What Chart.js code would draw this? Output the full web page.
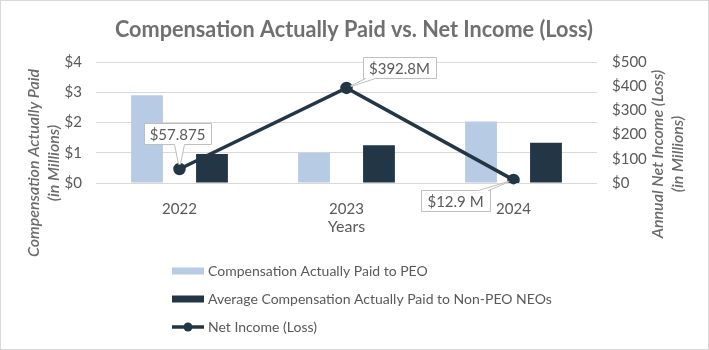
<!DOCTYPE html>
<html>
<head>
<meta charset="utf-8">
<script src="https://cdn.jsdelivr.net/npm/chart.js@4.4.1/dist/chart.umd.min.js"></script>
<style>
  body { margin: 0; background: #fff; }
  #wrap { width: 709px; height: 350px; position: relative; }
</style>
</head>
<body>
<div id="wrap"><canvas id="chart" width="709" height="350"></canvas></div>
<script>
// Chart data
const years = ["2022", "2023", "2024"];
const capPEO = [2.9, 1.0, 2.03];          // $M
const capNonPEO = [0.96, 1.25, 1.33];     // $M
const netIncome = [57.875, 392.8, 12.9];  // $M
const netIncomeLabels = ["$57.875", "$392.8M", "$12.9 M"];
const leftTicks = ["$0", "$1", "$2", "$3", "$4"];
const rightTicks = ["$0", "$100", "$200", "$300", "$400", "$500"];

const FONT = "Lato";
const textGray = "#595959";
const lightBlue = "#b7cbe5";
const navy = "#233646";

// label box offsets (box centre relative to its point)
const calloutOffsets = [[-2, -35], [53, -20], [-58, 21]];

const decorPlugin = {
  id: "decor",
  afterDraw(chart) {
    const ctx = chart.ctx;
    ctx.save();

    // outer border
    ctx.strokeStyle = "#d9d9d9";
    ctx.lineWidth = 1;
    ctx.strokeRect(0.5, 0.5, 708, 349);

    // title, squeezed to the reference width
    const title = "Compensation Actually Paid vs. Net Income (Loss)";
    ctx.font = "bold 23px " + FONT;
    ctx.fillStyle = "#707070";
    ctx.textBaseline = "alphabetic";
    ctx.textAlign = "left";
    const tw = ctx.measureText(title).width;
    ctx.save();
    ctx.translate(115, 37);
    ctx.scale(478 / tw, 1);
    ctx.fillText(title, 0, 0);
    ctx.restore();

    // axis titles
    ctx.font = "italic 600 16px " + FONT;
    ctx.fillStyle = "#6b6b6b";
    ctx.textAlign = "center";
    ctx.textBaseline = "middle";
    ctx.save();
    ctx.translate(34, 163);
    ctx.rotate(-Math.PI / 2);
    ctx.fillText("Compensation Actually Paid", 0, 0);
    ctx.fillText("(in Millions)", 0, 20);
    ctx.restore();
    ctx.save();
    ctx.translate(658, 154);
    ctx.rotate(-Math.PI / 2);
    ctx.fillText("Annual Net Income (Loss)", 0, 0);
    ctx.fillText("(in Millions)", 0, 20);
    ctx.restore();

    ctx.font = "16px " + FONT;
    ctx.fillStyle = textGray;
    ctx.fillText("Years", (chart.chartArea.left + chart.chartArea.right) / 2, 227);

    // callout labels on the net income line
    const meta = chart.getDatasetMeta(2);
    ctx.font = "15px " + FONT;
    meta.data.forEach((pt, i) => {
      const txt = netIncomeLabels[i];
      const w = ctx.measureText(txt).width + 12;
      const h = 21;
      const cx = pt.x + calloutOffsets[i][0];
      const cy = pt.y + calloutOffsets[i][1];
      const L = Math.round(cx - w / 2) + 0.5, R = Math.round(cx + w / 2) + 0.5;
      const T = Math.round(cy - h / 2) + 0.5, B = Math.round(cy + h / 2) + 0.5;
      const bx = Math.min(Math.max(pt.x, L + 7), R - 7);
      ctx.beginPath();
      if (pt.y > cy) {
        ctx.moveTo(L, T); ctx.lineTo(R, T); ctx.lineTo(R, B);
        ctx.lineTo(bx + 5, B); ctx.lineTo(pt.x, pt.y); ctx.lineTo(bx - 5, B);
        ctx.lineTo(L, B);
      } else {
        ctx.moveTo(L, B); ctx.lineTo(R, B); ctx.lineTo(R, T);
        ctx.lineTo(bx + 5, T); ctx.lineTo(pt.x, pt.y); ctx.lineTo(bx - 5, T);
        ctx.lineTo(L, T);
      }
      ctx.closePath();
      ctx.fillStyle = "#fff";
      ctx.fill();
      ctx.strokeStyle = "#bfbfbf";
      ctx.lineWidth = 1;
      ctx.stroke();
      ctx.fillStyle = textGray;
      ctx.fillText(txt, cx, cy + 1);
      // redraw point on top of the wedge
      ctx.beginPath();
      ctx.arc(pt.x, pt.y, 4.5, 0, Math.PI * 2);
      ctx.fillStyle = navy;
      ctx.fill();
    });

    // legend
    ctx.font = "14px " + FONT;
    ctx.textAlign = "left";
    ctx.textBaseline = "middle";
    const items = chart.data.datasets;
    const lx = 172, ly = [271, 299, 327];
    items.forEach((ds, i) => {
      const y = ly[i];
      if (ds.type === "line") {
        ctx.strokeStyle = ds.borderColor;
        ctx.lineWidth = 3.5;
        ctx.beginPath();
        ctx.moveTo(lx, y); ctx.lineTo(lx + 32, y);
        ctx.stroke();
        ctx.beginPath();
        ctx.arc(lx + 16, y, 4.5, 0, Math.PI * 2);
        ctx.fillStyle = ds.borderColor;
        ctx.fill();
      } else {
        ctx.fillStyle = ds.backgroundColor;
        ctx.fillRect(lx, y - 3.5, 32, 7);
      }
      ctx.fillStyle = textGray;
      ctx.fillText(ds.label, lx + 36, y);
    });

    ctx.restore();
  }
};

new Chart(document.getElementById("chart"), {
  data: {
    labels: years,
    datasets: [
      {
        type: "bar",
        label: "Compensation Actually Paid to PEO",
        data: capPEO,
        backgroundColor: lightBlue,
        yAxisID: "y",
        order: 2,
        categoryPercentage: 0.778,
        barPercentage: 0.49
      },
      {
        type: "bar",
        label: "Average Compensation Actually Paid to Non-PEO NEOs",
        data: capNonPEO,
        backgroundColor: navy,
        yAxisID: "y",
        order: 2,
        categoryPercentage: 0.778,
        barPercentage: 0.49
      },
      {
        type: "line",
        label: "Net Income (Loss)",
        data: netIncome,
        borderColor: navy,
        backgroundColor: navy,
        borderWidth: 3.5,
        pointRadius: 4.5,
        pointBackgroundColor: navy,
        yAxisID: "y1",
        order: 1
      }
    ]
  },
  options: {
    responsive: false,
    animation: false,
    layout: { padding: { left: 0, right: 0, top: 62, bottom: 127 } },
    plugins: {
      legend: { display: false },
      title: { display: false },
      tooltip: { enabled: false }
    },
    scales: {
      x: {
        grid: { display: false },
        border: { display: false },
        ticks: { color: textGray, font: { family: FONT, size: 15 }, padding: 9 },
        afterFit(s) { s.height = 40; }
      },
      y: {
        position: "left",
        min: 0, max: 4,
        grid: { color: "#d9d9d9", drawTicks: false },
        border: { display: false },
        ticks: {
          stepSize: 1, padding: 14, color: textGray,
          font: { family: FONT, size: 15 },
          callback: (v) => leftTicks[v]
        },
        afterFit(s) { s.width = 96; }
      },
      y1: {
        position: "right",
        min: 0, max: 500,
        grid: { display: false, drawTicks: false },
        border: { display: false },
        ticks: {
          stepSize: 100, padding: 15, color: textGray,
          font: { family: FONT, size: 15 },
          callback: (v) => rightTicks[v / 100]
        },
        afterFit(s) { s.width = 112; }
      }
    }
  },
  plugins: [decorPlugin]
});
</script>
</body>
</html>
